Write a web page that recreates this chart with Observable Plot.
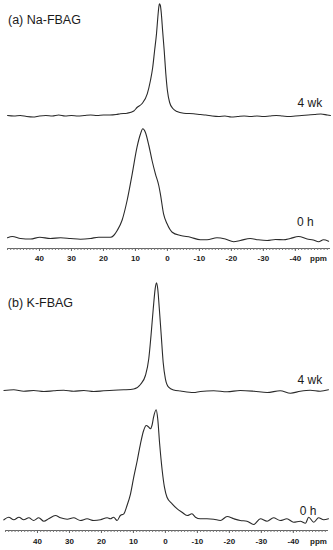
<!DOCTYPE html>
<html><head><meta charset="utf-8">
<script src="https://cdn.jsdelivr.net/npm/d3@7"></script>
<script src="https://cdn.jsdelivr.net/npm/@observablehq/plot@0.6"></script>
<style>
html,body{margin:0;padding:0;background:#fff;}
#chart{width:333px;}
#chart svg{display:block;}
</style></head><body><div id="chart"></div>
<script>
// tick labels (ppm)
const ppmTicks = [40, 30, 20, 10, 0, -10, -20, -30, -40];
const minorTicks = d3.range(-50, 51);
const axisUnit = "ppm";

// panel titles and trace labels
const panelTitles = ["(a) Na-FBAG", "(b) K-FBAG"];
const traceLabels = ["4 wk", "0 h"];

// (a) Na-FBAG, 4 wk: [ppm, intensity]
const naWk4 = [[50,0],[48,-0.5],[46,0],[44,-1],[42,-1.5],[40,-0.5],[38,0],[36,-0.5],[34,0.5],[32,-0.5],[30,0],[28,-0.5],[26,0],[24,0.5],[22,0],[20,0.5],[18,0.5],[16,1],[14.7,1.7],[12.6,2.3],[10.5,4.5],[9.5,8],[7.9,12],[6.3,21.7],[5.3,35],[4.6,48],[4.0,65],[3.4,82],[3.0,98],[2.7,108],[2.5,111.7],[2.2,110],[1.9,102],[1.5,85],[1.0,65],[0.5,42],[0,25],[-0.7,13],[-1.7,7],[-3.0,4],[-5.1,2.3],[-8.2,1.7],[-10.3,1],[-12,0.5],[-14,-0.5],[-16,-1],[-18,-0.5],[-20,-1.5],[-22,-1],[-24,-0.5],[-26,-1],[-28,-0.5],[-30,-1],[-32,-0.5],[-34,0],[-36,-0.5],[-38,-1],[-40,-0.5],[-42,0],[-44,0.5],[-46,1],[-48,1.5],[-50,0.5],[-51,0]];

// (a) Na-FBAG, 0 h
const naH0 = [[50,0.7],[48.5,2],[45.9,0],[42.8,-0.5],[39.9,1.3],[36.6,0],[33.4,0.7],[30.3,0],[27.2,-0.7],[24.1,0],[21.5,1.3],[18.8,1.3],[17.8,1.3],[16.8,3],[15.7,8],[14.2,18],[12.6,38],[11.0,64.7],[9.5,91.3],[8.4,104.7],[7.7,109.7],[6.9,106.3],[5.8,93],[4.8,78],[3.75,64.7],[2.7,53],[2.2,44.7],[1.2,24.7],[0.1,14.7],[-1.5,6.3],[-4.1,3],[-7.2,1.3],[-10.3,-1.3],[-12.4,-1.3],[-15.5,0.7],[-18.1,-0.5],[-20.7,-3.2],[-22.8,-2],[-25.9,0],[-28.4,-1.3],[-31.2,-2],[-33.8,-1],[-36.3,-1.3],[-38.4,0],[-41.0,2],[-43.7,-0.5],[-45.6,-1.5],[-47.3,-3.2],[-48.8,-1.3],[-50.4,-2.7]];

// (b) K-FBAG, 4 wk
const kWk4 = [[50.5,1],[47.4,1.7],[44.3,0.3],[41.2,1],[38.0,0],[34.9,0.7],[31.8,1.3],[28.7,0.3],[25.5,1],[22.4,0],[19.3,0.7],[16.2,1.3],[13.0,1.7],[9.9,2.5],[7.8,7],[6.25,16],[5.2,32.7],[4.5,56],[3.8,82.7],[3.2,102.7],[2.8,108.7],[2.4,102.7],[1.9,82.7],[1.3,56],[0.7,29.3],[0,12.7],[-1.0,4.3],[-2.6,1.5],[-4.7,0.5],[-8.8,-1],[-10.9,0],[-15.1,0.7],[-19.3,-0.3],[-23.4,1],[-27.6,0.3],[-31.8,-1],[-35.9,0.7],[-39.1,-1.7],[-42.2,0.3],[-45.3,1.3],[-48.4,0.3],[-51.0,1.7]];

// (b) K-FBAG, 0 h
const kH0 = [[50.5,-0.8],[49.0,1.8],[47.4,-0.8],[45.8,1.8],[44.3,-0.8],[42.7,1.2],[41.2,-1.5],[39.6,1.2],[38.0,-2.2],[36.5,0.2],[34.4,3.5],[32.8,1.2],[30.7,-0.2],[28.7,1.2],[26.6,-1.5],[24.5,0.2],[22.4,-1.5],[20.3,-0.8],[18.2,1.2],[17.2,0.2],[16.2,1.8],[15.1,-1.5],[14.1,3.5],[13.0,5.2],[12.0,13.5],[10.9,25.2],[9.9,41.8],[8.8,58.5],[7.8,75.2],[6.8,88.5],[6.0,93.5],[5.2,91.8],[4.7,90.2],[4.2,93.5],[3.7,101.8],[2.9,109.2],[2.4,100.2],[1.8,75.2],[1.0,48.5],[0.3,31.8],[-0.5,21.8],[-2.1,15.2],[-3.7,10.2],[-5.2,6.8],[-6.8,3.5],[-8.3,5.2],[-9.4,1.8],[-10.9,0.2],[-13.0,0.2],[-15.1,-0.2],[-17.2,-1.5],[-19.3,2.5],[-21.4,0.2],[-23.4,-1.5],[-25.5,-2.2],[-27.6,-5.5],[-29.7,0.2],[-31.8,-2.2],[-33.8,1.2],[-35.9,-1.5],[-38.0,0.2],[-40.1,-3.2],[-42.2,-2.2],[-43.8,-4.2],[-44.8,1.8],[-46.4,-3.2],[-47.9,1.2],[-49.5,-0.8],[-51.0,0.2]];

const FONT = "'Liberation Sans', Arial, Helvetica, sans-serif";
const INK = "#1a1a1a";
const LINE = "#2a2a2a";

function panel(cfg) {
  const {title, top, bottom, topOffset, height, marginBottom, marginLeft, marginRight, yDomain, tickPadding, lab} = cfg;
  const line = (data, off) => Plot.line(data, {x: d => d[0], y: d => d[1] + off, stroke: LINE, strokeWidth: 1.1, curve: "monotone-x"});
  return Plot.plot({
    width: 333, height, marginTop: 0, marginBottom, marginLeft, marginRight,
    x: {domain: [50, -51], axis: null},
    y: {domain: yDomain, axis: null},
    style: {fontFamily: FONT, color: INK, background: "#fff"},
    marks: [
      Plot.ruleY([yDomain[0]], {stroke: "#666", strokeWidth: 1}),
      Plot.axisX({ticks: minorTicks, tickSize: 2, stroke: "#777", tickFormat: () => "", label: null}),
      Plot.axisX({ticks: ppmTicks, tickSize: 3, tickPadding, stroke: "#666", tickFormat: d => String(d), fontWeight: "bold", fontSize: 8, fill: INK, label: null}),
      Plot.text([axisUnit], {frameAnchor: "bottom-right", text: d => d, textAnchor: "middle", lineAnchor: "top", dx: lab.ppmDx, dy: 3 + tickPadding, fontWeight: "bold", fontSize: 8, fill: INK}),
      line(bottom, 0),
      line(top, topOffset),
      Plot.text([title], {frameAnchor: "top-left", text: d => d, textAnchor: "start", lineAnchor: "bottom", dx: lab.titleDx, dy: lab.titleDy, fontSize: 12.5, fill: INK}),
      Plot.text([traceLabels[0]], {y: () => topOffset, frameAnchor: "right", text: d => d, textAnchor: "end", lineAnchor: "bottom", dx: lab.wkDx, dy: lab.wkDy, fontSize: 12, fill: INK}),
      Plot.text([traceLabels[1]], {y: () => 0, frameAnchor: "right", text: d => d, textAnchor: "end", lineAnchor: "bottom", dx: lab.hDx, dy: lab.hDy, fontSize: 12, fill: INK})
    ]
  });
}

const chart = document.getElementById("chart");
chart.append(panel({
  title: panelTitles[0], top: naWk4, bottom: naH0, topOffset: 123,
  height: 265, marginBottom: 17, marginLeft: 7, marginRight: 3,
  yDomain: [-10, 238], tickPadding: 3.5,
  lab: {ppmDx: -12, titleDx: 0.5, titleDy: 23.3, wkDx: -8.3, wkDy: -9, hDx: -16.7, hDy: -13}
}));
chart.append(panel({
  title: panelTitles[1], top: kWk4, bottom: kH0, topOffset: 127.5,
  height: 285, marginBottom: 20, marginLeft: 5, marginRight: 5,
  yDomain: [-11.5, 253.5], tickPadding: 4.5,
  lab: {ppmDx: -10, titleDx: 2.3, titleDy: 41.5, wkDx: -6.3, wkDy: -7.7, hDx: -12, hDy: -4.5}
}));
</script></body></html>
